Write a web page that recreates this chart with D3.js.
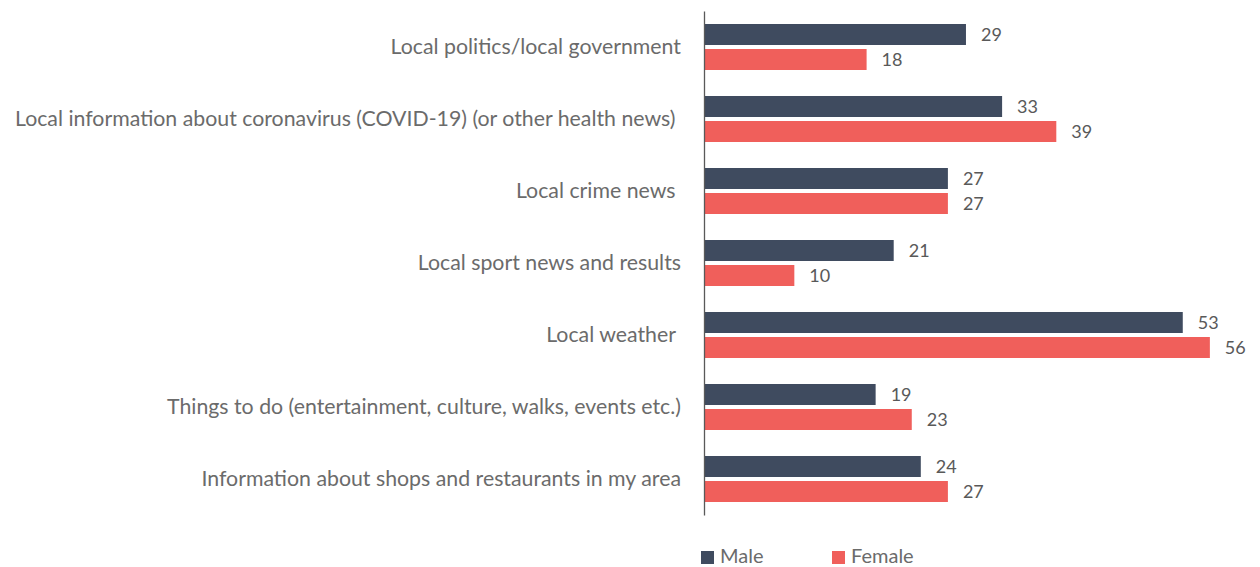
<!DOCTYPE html>
<html>
<head>
<meta charset="utf-8">
<script src="https://cdn.jsdelivr.net/npm/d3@7"></script>
<style>
  html, body { margin: 0; padding: 0; background: #fff; }
  svg { display: block; font-family: Lato, "Open Sans", sans-serif; }
</style>
</head>
<body>
<svg id="chart" width="1260" height="567"></svg>
<script>
// Topics of local news, share of respondents by gender
const categories = [
  "Local politics/local government",
  "Local information about coronavirus (COVID-19) (or other health news) ",
  "Local crime news ",
  "Local sport news and results",
  "Local weather ",
  "Things to do (entertainment, culture, walks, events etc.)",
  "Information about shops and restaurants in my area"
];
const series = ["Male", "Female"];
const maleValues = [29, 33, 27, 21, 53, 19, 24];
const femaleValues = [18, 39, 27, 10, 56, 23, 27];
const colors = ["#3f4b5f", "#f05f5b"];

const svg = d3.select("#chart");
const axisX = 704;

const x = d3.scaleLinear().domain([0, 60]).range([axisX, axisX + 542]);
const y = d3.scaleBand().domain(categories).range([11, 515]).paddingInner(0);
const ySub = d3.scaleBand().domain(series).range([13, 59]).paddingInner(0.16);
const color = d3.scaleOrdinal().domain(series).range(colors);

const rows = categories.map((c, i) => ({
  category: c,
  values: [
    { key: "Male", value: maleValues[i] },
    { key: "Female", value: femaleValues[i] }
  ]
}));

const groups = svg.selectAll("g.row")
  .data(rows)
  .join("g")
  .attr("class", "row")
  .attr("transform", d => `translate(0,${y(d.category)})`);

groups.selectAll("rect")
  .data(d => d.values)
  .join("rect")
  .attr("x", axisX)
  .attr("y", d => ySub(d.key))
  .attr("width", d => x(d.value) - axisX)
  .attr("height", ySub.bandwidth())
  .attr("fill", d => color(d.key));

groups.selectAll("text.val")
  .data(d => d.values)
  .join("text")
  .attr("class", "val")
  .attr("x", d => x(d.value) + 15)
  .attr("y", d => ySub(d.key) + ySub.bandwidth() / 2)
  .attr("dy", "0.35em")
  .attr("font-size", 18)
  .attr("fill", "#595959")
  .text(d => d.value);

// Category labels, right-aligned against the axis
groups.append("text")
  .attr("x", 681)
  .attr("y", 36)
  .attr("dy", "0.35em")
  .attr("text-anchor", "end")
  .attr("font-size", 21.3)
  .attr("fill", "#6b6b6b")
  .style("white-space", "pre")
  .text(d => d.category);

// Vertical axis line
const yAxis = d3.axisLeft(y).tickSize(0).tickFormat("");
svg.append("g")
  .attr("transform", `translate(${axisX},0)`)
  .call(yAxis)
  .call(g => g.select(".domain").attr("stroke", "#595959").attr("stroke-width", 1.3));

// Legend
const legendX = [701, 832];
const legend = svg.selectAll("g.legend")
  .data(series)
  .join("g")
  .attr("class", "legend")
  .attr("transform", (d, i) => `translate(${legendX[i]},551)`);
legend.append("rect")
  .attr("width", 13)
  .attr("height", 13)
  .attr("fill", d => color(d));
legend.append("text")
  .attr("x", 19)
  .attr("y", 11.5)
  .attr("font-size", 20)
  .attr("fill", "#6b6b6b")
  .text(d => d);
</script>
</body>
</html>
